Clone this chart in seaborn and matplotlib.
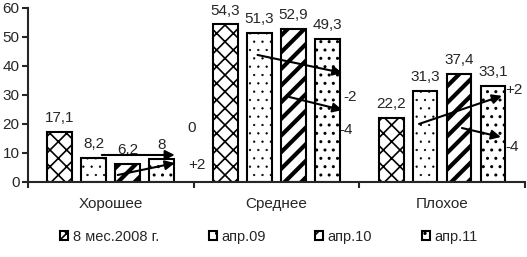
import matplotlib
matplotlib.use("Agg")
import matplotlib.pyplot as plt
import pandas as pd
import seaborn as sns

# data
categories = ["Хорошее", "Среднее", "Плохое"]
periods = ["8 мес.2008 г.", "апр.09", "апр.10", "апр.11"]
values_2008 = [17.1, 54.3, 22.2]
values_apr09 = [8.2, 51.3, 31.3]
values_apr10 = [6.2, 52.9, 37.4]
values_apr11 = [8.0, 49.3, 33.1]

# change notes drawn as arrows (x in category units, y in %)
arrows = [
    ((-0.054, 9.3), (0.386, 9.3)),
    ((0.042, 2.4), (0.386, 6.5)),
    ((0.886, 43.8), (1.398, 37.6)),
    ((1.078, 29.3), (1.398, 24.8)),
    ((1.861, 20.0), (2.361, 29.7)),
    ((2.120, 18.6), (2.355, 15.5)),
]
notes = [
    (0.488, 18.6, "0"),
    (0.518, 5.9, "+2"),
    (1.446, 29.3, "-2"),
    (1.420, 17.9, "-4"),
    (2.434, 31.7, "+2"),
    (2.420, 12.0, "-4"),
]


def fmt(v):
    s = "{:g}".format(v)
    return s.replace(".", ",")


def main():
    sns.set_style("ticks")
    plt.rcParams["font.family"] = ["Liberation Sans", "DejaVu Sans"]
    plt.rcParams["hatch.linewidth"] = 1.2

    series = [values_2008, values_apr09, values_apr10, values_apr11]
    rows = []
    for p, vals in zip(periods, series):
        for c, v in zip(categories, vals):
            rows.append({"cat": c, "period": p, "val": v})
    df = pd.DataFrame(rows)

    fig = plt.figure(figsize=(5.27, 2.57), dpi=100)
    ax = fig.add_axes([0.053, 0.292, 0.943, 0.677])

    sns.barplot(data=df, x="cat", y="val", hue="period", order=categories,
                hue_order=periods, width=0.82, gap=0.27, legend=False,
                errorbar=None, ax=ax)

    hatches = ["xx", "..", "//", ".."]
    hatch_lw = [1.2, 0.4, 3.0, 1.0]
    fs = 11
    for cont, h, hl, vals in zip(ax.containers, hatches, hatch_lw, series):
        for bar in cont:
            bar.set_facecolor("white")
            bar.set_edgecolor("black")
            bar.set_linewidth(1.5)
            bar.set_hatch(h)
            try:
                bar.set_hatch_linewidth(hl)
            except AttributeError:
                pass
        ax.bar_label(cont, labels=[fmt(v) for v in vals], padding=5, fontsize=fs)

    for (x0, y0), (x1, y1) in arrows:
        ax.annotate("", xy=(x1, y1), xytext=(x0, y0),
                    arrowprops=dict(arrowstyle="-|>", color="black", lw=1.5,
                                    mutation_scale=14, shrinkA=0, shrinkB=0))
    for x, y, t in notes:
        ax.text(x, y, t, ha="center", va="center", fontsize=fs)

    ax.set_xlim(-0.5, 2.5)
    ax.set_ylim(0, 60)
    ax.set_yticks(range(0, 61, 10))
    ax.set_xlabel("")
    ax.set_ylabel("")
    ax.set_xticks([-0.5, 0.5, 1.5, 2.5], minor=True)
    ax.tick_params(axis="x", which="major", length=0, pad=11, labelsize=fs)
    ax.tick_params(axis="x", which="minor", length=4, width=1.5)
    ax.tick_params(axis="y", length=4, width=1.5, pad=2, labelsize=fs)
    sns.despine(ax=ax)
    for s in ["left", "bottom"]:
        ax.spines[s].set_linewidth(1.5)

    handles = list(ax.containers)
    fig.legend(handles=handles, labels=periods, loc="center", bbox_to_anchor=(0.51, 0.078),
               ncol=4, frameon=False, fontsize=fs - 0.5, handlelength=0.55, handleheight=0.55,
               handletextpad=0.3, columnspacing=3.4)

    fig.savefig("out.png", dpi=100)


if __name__ == "__main__":
    main()
